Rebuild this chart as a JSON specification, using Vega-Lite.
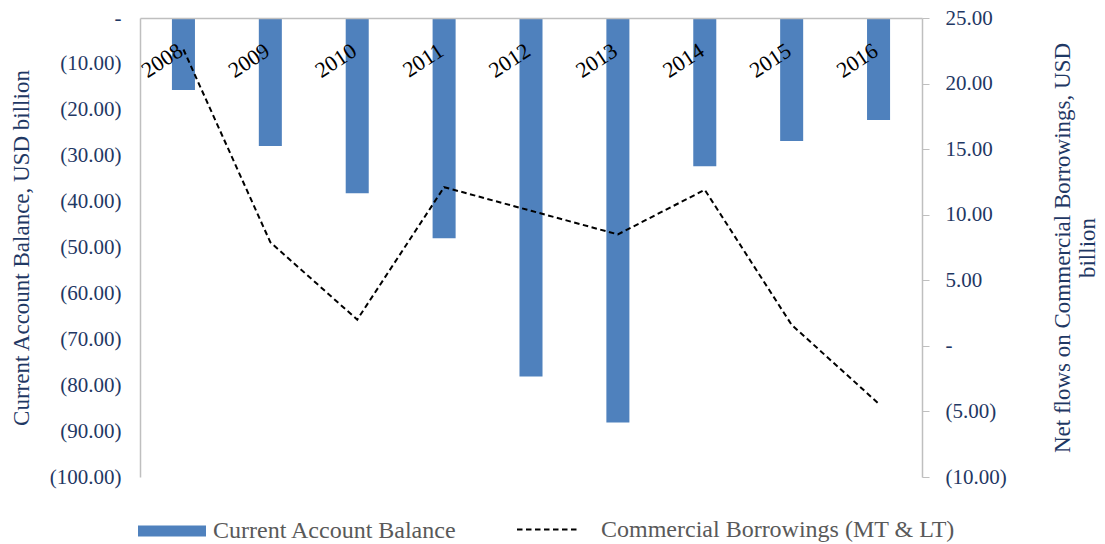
{
  "$schema": "https://vega.github.io/schema/vega-lite/v6.json",
  "autosize": "none",
  "width": 782,
  "height": 459,
  "padding": {"left": 140, "top": 18, "right": 183, "bottom": 67},
  "background": "white",
  "config": {
    "font": "Liberation Serif",
    "view": {"stroke": null},
    "axis": {"labelFont": "Liberation Serif", "titleFont": "Liberation Serif", "grid": false, "domainColor": "#BFBFBF", "tickColor": "#BFBFBF", "domainWidth": 1.5}
  },
  "data": {
    "values": [
      {"year": "2008", "cab": -15.7, "ecb": 22.6},
      {"year": "2009", "cab": -27.9, "ecb": 7.9},
      {"year": "2010", "cab": -38.2, "ecb": 2.0},
      {"year": "2011", "cab": -48.0, "ecb": 12.1},
      {"year": "2012", "cab": -78.1, "ecb": 10.3},
      {"year": "2013", "cab": -88.1, "ecb": 8.5},
      {"year": "2014", "cab": -32.3, "ecb": 11.9},
      {"year": "2015", "cab": -26.8, "ecb": 1.6},
      {"year": "2016", "cab": -22.2, "ecb": -4.4}
    ]
  },
  "encoding": {
    "x": {
      "field": "year",
      "type": "nominal",
      "sort": null,
      "scale": {"paddingInner": 0.735, "paddingOuter": 0.3675},
      "axis": {
        "orient": "top",
        "zindex": 1,
        "title": null,
        "ticks": false,
        "tickSize": 0,
        "labelAngle": -33,
        "labelAlign": "right",
        "labelBaseline": "alphabetic",
        "labelPadding": -36,
        "labelOffset": 1,
        "labelFontSize": 22,
        "labelColor": "#000000",
        "labelOverlap": false,
        "labelLimit": 300,
        "domainColor": "#BFBFBF"
      }
    }
  },
  "layer": [
    {
      "mark": {"type": "bar", "color": "#4F81BD"},
      "encoding": {
        "y": {
          "field": "cab",
          "type": "quantitative",
          "scale": {"domain": [-100, 0], "nice": false},
          "axis": {
            "orient": "left",
            "values": [0, -10, -20, -30, -40, -50, -60, -70, -80, -90, -100],
            "labelExpr": "datum.value == 0 ? '-' : '(' + format(abs(datum.value), '.2f') + ')'",
            "ticks": false,
            "labelPadding": 19,
            "labelFontSize": 21,
            "labelColor": "#1F3864",
            "title": "Current Account Balance, USD billion",
            "titleFontSize": 23,
            "titleFontWeight": "normal",
            "titleColor": "#1F3864",
            "titlePadding": 16
          }
        },
        "color": {
          "datum": "Current Account Balance",
          "scale": {"range": ["#4F81BD"]},
          "legend": {
            "orient": "none",
            "legendX": -2,
            "legendY": 479,
            "title": null,
            "symbolType": "M-1,-0.162H1V0.162H-1Z",
            "symbolSize": 4624,
            "symbolStrokeWidth": 0,
            "labelOffset": 7,
            "labelFontSize": 24,
            "labelLimit": 400,
            "labelColor": "#595959",
            "labelFont": "Liberation Serif"
          }
        }
      }
    },
    {
      "mark": {"type": "line", "color": "#000000", "strokeWidth": 2},
      "encoding": {
        "y": {
          "field": "ecb",
          "type": "quantitative",
          "scale": {"domain": [-10, 25], "nice": false},
          "axis": {
            "orient": "right",
            "values": [-10, -5, 0, 5, 10, 15, 20, 25],
            "labelExpr": "datum.value == 0 ? '-' : (datum.value < 0 ? '(' + format(-datum.value, '.2f') + ')' : format(datum.value, '.2f'))",
            "ticks": true,
            "tickSize": 7,
            "labelPadding": 16,
            "labelFontSize": 21,
            "labelColor": "#1F3864",
            "title": ["Net flows on Commercial Borrowings, USD", "billion"],
            "titleFontSize": 23,
            "titleFontWeight": "normal",
            "titleColor": "#1F3864",
            "titleAngle": -90,
            "titleAlign": "center",
            "titlePadding": 43
          }
        },
        "strokeDash": {
          "datum": "Commercial Borrowings (MT & LT)",
          "scale": {"range": [[5.5, 3.5]]},
          "legend": {
            "orient": "none",
            "legendX": 376,
            "legendY": 479,
            "title": null,
            "symbolType": "stroke",
            "symbolSize": 3969,
            "symbolStrokeColor": "#000000",
            "symbolStrokeWidth": 2,
            "labelOffset": 20,
            "labelFontSize": 24,
            "labelLimit": 400,
            "labelColor": "#595959",
            "labelFont": "Liberation Serif"
          }
        }
      }
    }
  ],
  "resolve": {"scale": {"y": "independent", "color": "independent", "strokeDash": "independent"}}
}
